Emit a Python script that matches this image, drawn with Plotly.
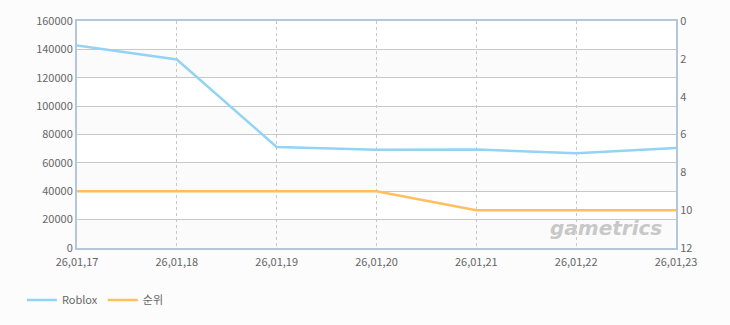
import plotly.graph_objects as go

categories = ["26,01,17", "26,01,18", "26,01,19", "26,01,20", "26,01,21", "26,01,22", "26,01,23"]
roblox_values = [142800, 132900, 71200, 69200, 69400, 66700, 70500]
rank_values = [9, 9, 9, 9, 10, 10, 10]
left_ticks = [0, 20000, 40000, 60000, 80000, 100000, 120000, 140000, 160000]
right_ticks = [0, 2, 4, 6, 8, 10, 12]

xs = list(range(len(categories)))
FONT = "Noto Sans CJK KR, Noto Sans, sans-serif"
AXIS_COLOR = "#b3c6da"

fig = go.Figure()
fig.add_trace(go.Scatter(x=xs, y=roblox_values, mode="lines", name="Roblox",
                         line=dict(color="#93d3f3", width=2.5), yaxis="y"))
fig.add_trace(go.Scatter(x=xs, y=rank_values, mode="lines", name="순위",
                         line=dict(color="#ffbf5e", width=2.5), yaxis="y2"))

shapes = []
for i in range(0, len(left_ticks) - 1, 2):
    shapes.append(dict(type="rect", xref="paper", yref="y", x0=0, x1=1,
                       y0=left_ticks[i], y1=left_ticks[i + 1],
                       fillcolor="#fbfbfb", line=dict(width=0), layer="below"))

fig.update_layout(
    width=730, height=325,
    margin=dict(l=77, r=54, t=16, b=77),
    paper_bgcolor="#fcfcfc",
    plot_bgcolor="#ffffff",
    font=dict(family=FONT, size=11, color="#666666"),
    shapes=shapes,
    showlegend=True,
    legend=dict(orientation="h", xref="container", yref="container",
                x=0.03, y=25 / 325, xanchor="left", yanchor="middle",
                font=dict(size=11, color="#666666"), itemwidth=30,
                bgcolor="rgba(0,0,0,0)"),
    xaxis=dict(range=[0, len(categories) - 1], tickvals=xs, ticktext=categories,
               showgrid=True, gridcolor="#c8c8c8", griddash="3px,3px", gridwidth=1,
               showline=True, linecolor=AXIS_COLOR, linewidth=2, mirror=True,
               ticks="", zeroline=False, ticklabelstandoff=3,
               tickfont=dict(size=11, color="#666666")),
    yaxis=dict(range=[0, 160000], tickvals=left_ticks, showgrid=True,
               gridcolor="#c8c8c8", gridwidth=1, showline=True,
               linecolor=AXIS_COLOR, linewidth=2, ticks="", zeroline=False,
               tickformat="d", tickfont=dict(size=11, color="#666666")),
    yaxis2=dict(range=[12, 0], tickvals=right_ticks, overlaying="y", side="right",
                showgrid=False, showline=True, linecolor=AXIS_COLOR, linewidth=2,
                ticks="", zeroline=False, tickfont=dict(size=11, color="#666666")),
    annotations=[dict(text="<b><i>gametrics</i></b>", xref="paper", yref="paper",
                      x=0.98, y=0.09, xanchor="right", yanchor="middle",
                      showarrow=False,
                      font=dict(family="DejaVu Sans, sans-serif", size=20, color="#c8c8c8"))],
)

fig.write_html("out.html")
